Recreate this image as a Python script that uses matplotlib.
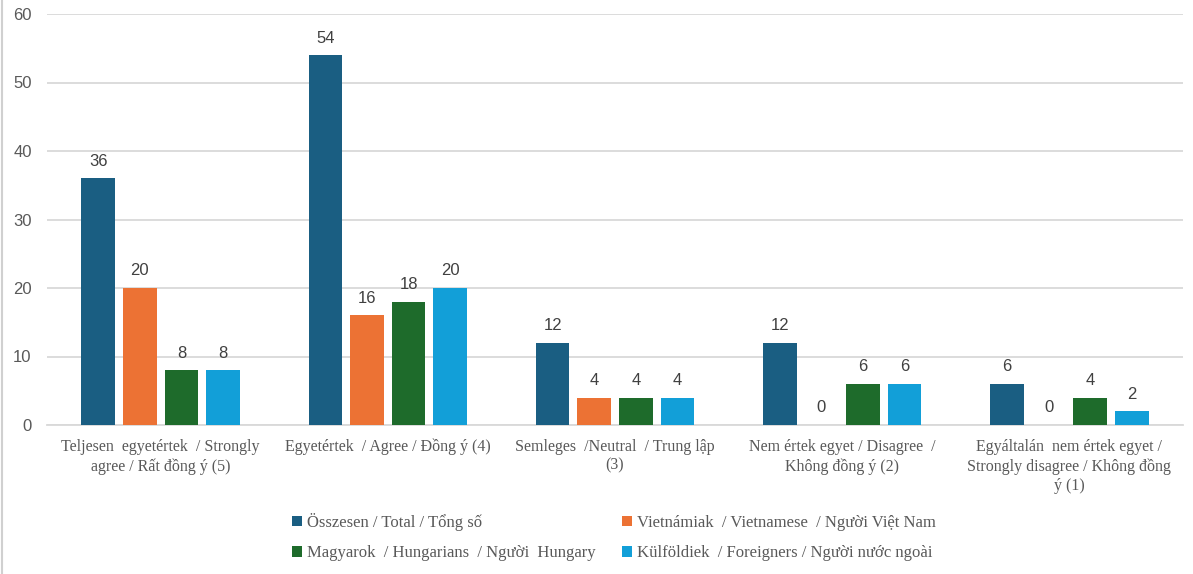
import numpy as np
import matplotlib.pyplot as plt
from matplotlib.lines import Line2D
from matplotlib.patches import Patch

categories = [
    "Teljesen  egyetértek  / Strongly\nagree / Rất đồng ý (5)",
    "Egyetértek  / Agree / Đồng ý (4)",
    "Semleges  /Neutral  / Trung lập\n(3)",
    "Nem értek egyet / Disagree  /\nKhông đồng ý (2)",
    "Egyáltalán  nem értek egyet /\nStrongly disagree / Không đồng\ný (1)",
]
series_names = [
    "Összesen / Total / Tổng số",
    "Vietnámiak  / Vietnamese  / Người Việt Nam",
    "Magyarok  / Hungarians  / Người  Hungary",
    "Külföldiek  / Foreigners / Người nước ngoài",
]
total = [36, 54, 12, 12, 6]
vietnamese = [20, 16, 4, 0, 0]
hungarians = [8, 18, 4, 6, 4]
foreigners = [8, 20, 4, 6, 2]
yticks = [0, 10, 20, 30, 40, 50, 60]

colors = ["#1A5E82", "#EC7234", "#1E6B2B", "#129FD8"]
gray = "#595959"

fig = plt.figure(figsize=(11.93, 5.74), dpi=100)
ax = fig.add_axes([47 / 1193, 149 / 574, 1136 / 1193, 411 / 574])

x = np.arange(len(categories))
width = 0.148
step = 0.183
all_series = [total, vietnamese, hungarians, foreigners]
for i, vals in enumerate(all_series):
    pos = x + (i - 1.5) * step
    ax.bar(pos, vals, width=width, color=colors[i], zorder=3)
    for px, v in zip(pos, vals):
        ax.text(px, v + 1.4, str(v), ha="center", va="bottom",
                fontsize=12, color="#404040", family="Liberation Sans")

ax.set_xlim(-0.5, len(categories) - 0.5)
ax.set_ylim(0, 60)
ax.set_yticks(yticks)
ax.set_yticklabels([str(t) for t in yticks], family="Liberation Sans",
                   fontsize=12, color=gray)
ax.set_xticks(x)
ax.set_xticklabels(categories, family="Liberation Serif", fontsize=11.5,
                   color=gray, linespacing=1.25)
ax.tick_params(axis="both", length=0)
ax.tick_params(axis="y", pad=11)
ax.tick_params(axis="x", pad=10)
ax.grid(axis="y", color="#D9D9D9", linewidth=1.3, zorder=0)
for side in ["top", "right", "left"]:
    ax.spines[side].set_visible(False)
ax.spines["bottom"].set_color("#D9D9D9")
ax.spines["bottom"].set_linewidth(1.3)

# chart frame edge on the left
fig.add_artist(Line2D([2 / 1193, 2 / 1193], [0, 1], color="#D0D0D0",
                      linewidth=1.5, transform=fig.transFigure))

# legend filled row by row: two entries per row
order = [0, 2, 1, 3]
handles = [Patch(facecolor=colors[k]) for k in order]
labels = [series_names[k] for k in order]
fig.legend(handles, labels, ncol=2, loc="center",
           bbox_to_anchor=(614 / 1193, 1 - 537 / 574), frameon=False,
           prop={"family": "Liberation Serif", "size": 12},
           labelcolor=gray, handlelength=0.6, handleheight=0.6,
           handletextpad=0.3, columnspacing=1.6, labelspacing=0.85)

fig.savefig("out.png", dpi=100)
